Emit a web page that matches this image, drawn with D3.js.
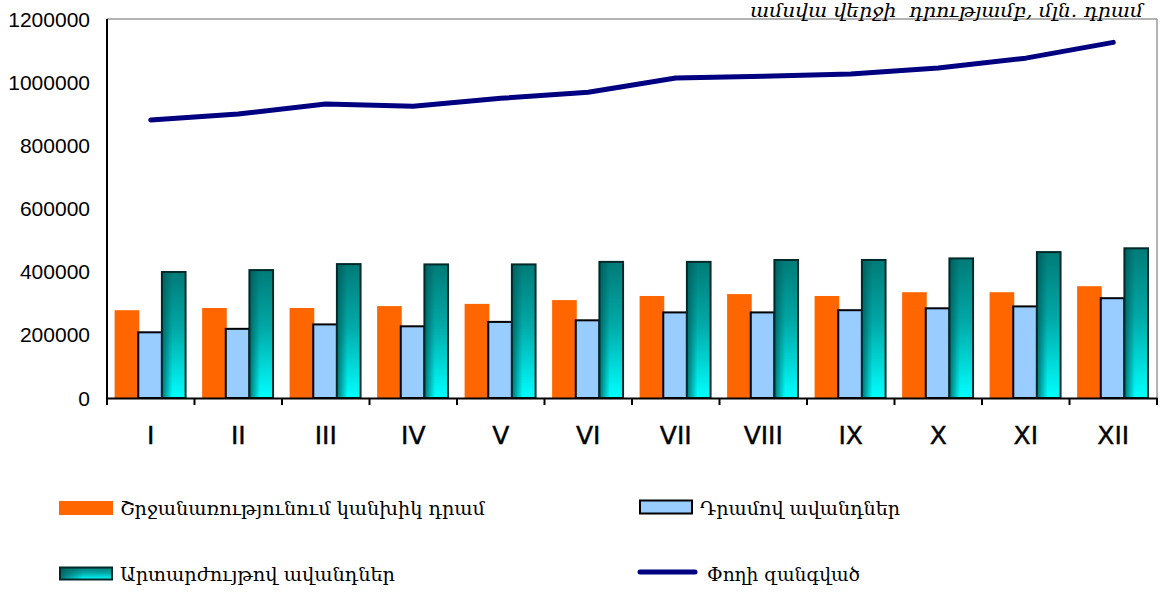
<!DOCTYPE html>
<html>
<head>
<meta charset="utf-8">
<script src="https://cdn.jsdelivr.net/npm/d3@7"></script>
<style>
  html, body { margin: 0; padding: 0; background: #fff; }
  svg { display: block; }
</style>
</head>
<body>
<svg id="chart" width="1161" height="592"></svg>
<script>
// ---- data ----
const categories = ["I", "II", "III", "IV", "V", "VI", "VII", "VIII", "IX", "X", "XI", "XII"];
const cashInCirculation = [278000, 285000, 285000, 291000, 298000, 310000, 323000, 329000, 323000, 335000, 335000, 354000];
const dramDeposits = [208000, 219000, 233000, 227000, 241000, 246000, 271000, 271000, 278000, 284000, 290000, 316000];
const fxDeposits = [399000, 405000, 424000, 423000, 423000, 431000, 431000, 437000, 437000, 442000, 462000, 474000];
const broadMoney = [880000, 899000, 931000, 924000, 949000, 968000, 1013000, 1019000, 1026000, 1045000, 1076000, 1126000];
const yTicks = [0, 200000, 400000, 600000, 800000, 1000000, 1200000];
const seriesNames = ["Շրջանառությունում կանխիկ դրամ", "Դրամով ավանդներ", "Արտարժույթով ավանդներ", "Փողի զանգված"];
const unitLabel = "ամսվա վերջի  դրությամբ, մլն. դրամ";

(function () {
// ---- layout ----
const svg = d3.select("#chart");
const pLeft = 107, pRight = 1157, pTop = 19, pBottom = 398;

const x0 = d3.scaleBand().domain(categories).range([pLeft, pRight]).paddingInner(0).paddingOuter(0);
const barKeys = ["cash", "dram", "fx"];
const x1 = d3.scaleBand().domain(barKeys).range([0, x0.bandwidth()]).paddingInner(0).paddingOuter(0.35).align(0.46);
const y = d3.scaleLinear().domain([0, 1200000]).range([pBottom, pTop]);

// gradients
const defs = svg.append("defs");
const gV = defs.append("linearGradient").attr("id", "tealV").attr("x1", 0).attr("y1", 0).attr("x2", 0).attr("y2", 1);
gV.append("stop").attr("offset", "0%").attr("stop-color", "#007b78");
gV.append("stop").attr("offset", "45%").attr("stop-color", "#00a8a6");
gV.append("stop").attr("offset", "100%").attr("stop-color", "#00ffff");
const gH = defs.append("linearGradient").attr("id", "tealH").attr("x1", 0).attr("y1", 0).attr("x2", 1).attr("y2", 0);
gH.append("stop").attr("offset", "0%").attr("stop-color", "#005a58").attr("stop-opacity", 0.85);
gH.append("stop").attr("offset", "45%").attr("stop-color", "#006060").attr("stop-opacity", 0);
gH.append("stop").attr("offset", "100%").attr("stop-color", "#006060").attr("stop-opacity", 0);

// frame (top/right gray)
svg.append("line").attr("x1", pLeft).attr("x2", pRight).attr("y1", pTop).attr("y2", pTop)
  .attr("stroke", "#9a9a9a").attr("stroke-width", 1.5);
svg.append("line").attr("x1", pRight).attr("x2", pRight).attr("y1", pTop).attr("y2", pBottom)
  .attr("stroke", "#9a9a9a").attr("stroke-width", 1.5);

// bars
const rows = categories.map((c, i) => ({ c, cash: cashInCirculation[i], dram: dramDeposits[i], fx: fxDeposits[i] }));
const g = svg.append("g");
rows.forEach(r => {
  const gx = x0(r.c);
  g.append("rect").attr("x", gx + x1("cash")).attr("y", y(r.cash))
    .attr("width", x1.bandwidth() + 1).attr("height", pBottom - y(r.cash)).attr("fill", "#ff6600");
  g.append("rect").attr("x", gx + x1("dram")).attr("y", y(r.dram))
    .attr("width", x1.bandwidth()).attr("height", pBottom - y(r.dram))
    .attr("fill", "#99ccff").attr("stroke", "#000").attr("stroke-width", 2);
  g.append("rect").attr("x", gx + x1("fx")).attr("y", y(r.fx))
    .attr("width", x1.bandwidth()).attr("height", pBottom - y(r.fx))
    .attr("fill", "url(#tealV)");
  g.append("rect").attr("x", gx + x1("fx")).attr("y", y(r.fx))
    .attr("width", x1.bandwidth()).attr("height", pBottom - y(r.fx))
    .attr("fill", "url(#tealH)").attr("stroke", "#002a2a").attr("stroke-width", 2);
});

// line
const lineGen = d3.line().x((d, i) => x0(categories[i]) + x0.bandwidth() / 2).y(d => y(d));
svg.append("path").datum(broadMoney).attr("d", lineGen)
  .attr("fill", "none").attr("stroke", "#000080").attr("stroke-width", 5)
  .attr("stroke-linecap", "round").attr("stroke-linejoin", "round");

// y axis
svg.append("line").attr("x1", pLeft).attr("x2", pLeft).attr("y1", pTop).attr("y2", pBottom + 7)
  .attr("stroke", "#000").attr("stroke-width", 2);
svg.append("g").selectAll("text").data(yTicks).join("text")
  .attr("x", 90).attr("y", d => y(d)).attr("dy", "0.36em")
  .attr("text-anchor", "end").attr("font-family", "Liberation Sans, Arial, sans-serif")
  .attr("font-size", 21).attr("fill", "#000").text(d => d);

// x axis
const xAxis = d3.axisBottom(x0).tickSize(0).tickFormat(d => d);
const xg = svg.append("g").attr("transform", `translate(0,${pBottom})`).call(xAxis);
xg.select(".domain").attr("stroke", "#000").attr("stroke-width", 2);
xg.selectAll(".tick text").attr("font-family", "DejaVu Sans, sans-serif").attr("font-size", 25)
  .attr("fill", "#000").attr("dy", 0).attr("y", 46).attr("stroke", "#000").attr("stroke-width", 0.4);
const boundaries = categories.map(c => x0(c)).concat([pRight]);
svg.append("g").selectAll("line").data(boundaries).join("line")
  .attr("x1", d => d).attr("x2", d => d).attr("y1", pBottom).attr("y2", pBottom + 7)
  .attr("stroke", "#000").attr("stroke-width", 2);

// unit label
svg.append("text").attr("x", 750).attr("y", 17)
  .attr("font-family", "DejaVu Serif, serif").attr("font-style", "italic").attr("font-size", 19)
  .attr("textLength", 393).attr("lengthAdjust", "spacingAndGlyphs")
  .style("white-space", "pre")
  .attr("fill", "#000").text(unitLabel);

// legend
const legend = svg.append("g").attr("font-family", "DejaVu Serif, serif").attr("font-size", 19).attr("fill", "#000");
legend.append("rect").attr("x", 59).attr("y", 501).attr("width", 54).attr("height", 14).attr("fill", "#ff6600");
legend.append("text").attr("x", 120).attr("y", 515).attr("textLength", 365).attr("lengthAdjust", "spacingAndGlyphs").text(seriesNames[0]);
legend.append("rect").attr("x", 640).attr("y", 500.5).attr("width", 52).attr("height", 13)
  .attr("fill", "#99ccff").attr("stroke", "#000").attr("stroke-width", 2);
legend.append("text").attr("x", 700).attr("y", 515).attr("textLength", 200).attr("lengthAdjust", "spacingAndGlyphs").text(seriesNames[1]);
legend.append("rect").attr("x", 60).attr("y", 567.5).attr("width", 52).attr("height", 12).attr("fill", "url(#tealV)");
legend.append("rect").attr("x", 60).attr("y", 567.5).attr("width", 52).attr("height", 12)
  .attr("fill", "url(#tealH)").attr("stroke", "#002a2a").attr("stroke-width", 2);
legend.append("text").attr("x", 120).attr("y", 581).attr("textLength", 275).attr("lengthAdjust", "spacingAndGlyphs").text(seriesNames[2]);
legend.append("line").attr("x1", 640).attr("x2", 695).attr("y1", 572).attr("y2", 572)
  .attr("stroke", "#000080").attr("stroke-width", 5).attr("stroke-linecap", "round");
legend.append("text").attr("x", 707).attr("y", 581).attr("textLength", 153).attr("lengthAdjust", "spacingAndGlyphs").text(seriesNames[3]);
})();
</script>
</body>
</html>
